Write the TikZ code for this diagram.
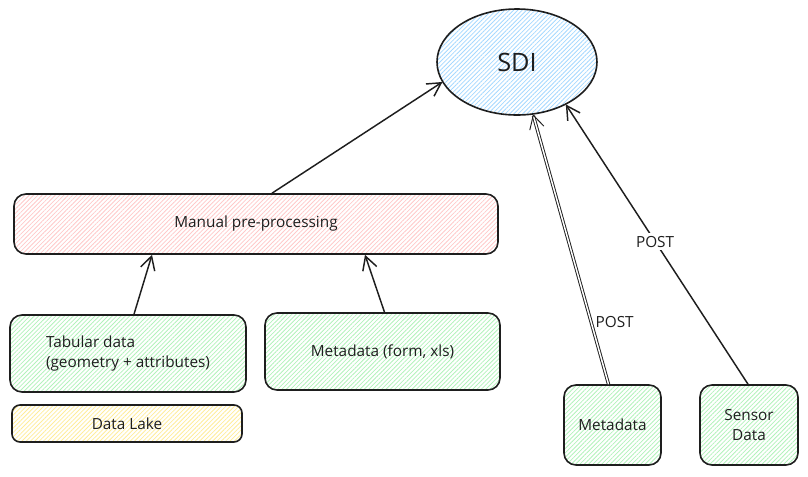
\documentclass[tikz,border=0pt]{standalone}
\usepackage{fontspec}
\setmainfont{Open Sans}
\usetikzlibrary{arrows.meta,positioning,shapes.geometric,patterns.meta,calc}
\definecolor{ink}{HTML}{1E1E1E}
\definecolor{hblue}{HTML}{A5D8FF}
\definecolor{hred}{HTML}{FFC9C9}
\definecolor{hgreen}{HTML}{B2F2BB}
\definecolor{hyellow}{HTML}{FFEC99}

\begin{document}
\begin{tikzpicture}[x=.75pt,y=-.75pt,every node/.style={font=\fontsize{11.5}{14.5}\selectfont,text=ink},
    hatch/.style={pattern={Lines[angle=45,distance=2.3pt,line width=.6pt]},pattern color=#1},
    box/.style={draw=ink,line width=1.2pt,rounded corners=9pt,inner sep=0pt,align=center},
    link/.style={draw=ink,line width=1.1pt,-{Straight Barb[length=10pt,width=11pt]}}]
  \useasboundingbox (0,0) rectangle (808,476);
  % target
  \node[ellipse,draw=ink,line width=1.2pt,hatch=hblue,inner sep=0pt,minimum width=120pt,minimum height=79.5pt,
    font=\fontsize{19}{22}\selectfont] (sdi) at (517,62) {SDI};
  % left branch
  \node[box,hatch=hred,minimum width=363pt,minimum height=45pt] (manual) at (256,224) {Manual pre-processing};
  \node[box,hatch=hgreen,minimum width=177pt,minimum height=57.75pt,align=left] (tabular) at (128,353.5)
    {Tabular data\\(geometry + attributes)};
  \node[box,hatch=hgreen,minimum width=176.25pt,minimum height=57.75pt] (form) at (382.5,351.5) {Metadata (form, xls)};
  \node[box,hatch=hyellow,rounded corners=6pt,minimum width=172.5pt,minimum height=27.75pt] (lake) at (127,423.5) {Data Lake};
  % right branch
  \node[box,hatch=hgreen,minimum width=72.75pt,minimum height=60pt] (meta) at (612.5,425) {Metadata};
  \node[box,hatch=hgreen,minimum width=73.5pt,minimum height=60pt] (sensor) at (749,425) {Sensor\\Data};

  \draw[link] ($(manual.north)+(16,0)$) -- (sdi.195);
  \draw[link] ($(tabular.north)+(6,0)$) -- ($(manual.south)+(-104,0)$);
  \draw[link] ($(form.north)+(2,0)$) -- ($(manual.south)+(109,0)$);
  \draw[link,line width=.7pt,double=white,double distance=1.1pt] ($(meta.north)+(-4,0)$) -- (sdi.287)
    node[pos=.23,anchor=west,inner sep=3pt]{POST};
  \draw[link] ($(sensor.north)+(-1,0)$) -- (sdi.319) node[pos=.51,fill=white,inner sep=2pt]{POST};
\end{tikzpicture}
\end{document}
